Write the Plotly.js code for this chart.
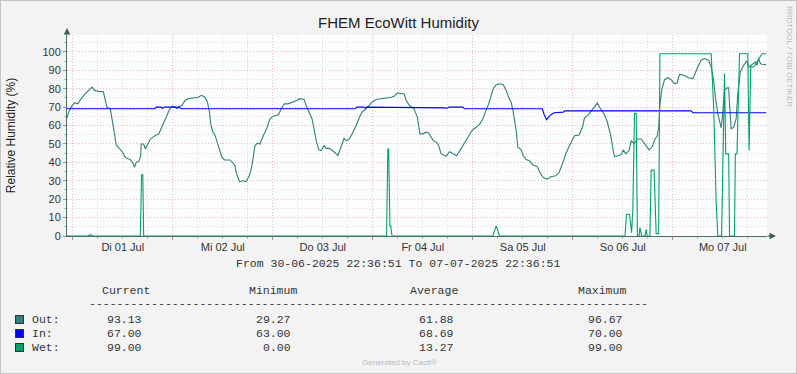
<!DOCTYPE html>
<html><head><meta charset="utf-8">
<script src="https://cdn.plot.ly/plotly-3.0.1.min.js"></script>
<style>
html,body{margin:0;padding:0;background:#F3F3F3;}
#wrap{position:relative;width:797px;height:374px;}
#chart{width:797px;height:374px;}
#frame{position:absolute;left:0;top:0;width:797px;height:374px;box-sizing:border-box;border:1px solid #C4C4C4;pointer-events:none;}
</style></head>
<body><div id="wrap"><div id="chart"></div><div id="frame"></div></div>
<script>
// ---- data (hours since 30-06-2025 22:36:51) ----
const outT = [0,0.4,1.0,1.8,2.6,3.4,4.4,5.2,6.0,6.6,7.6,8.7,9.2,9.6,10.4,11.0,11.4,11.8,12.6,13.4,13.8,14.4,15.2,15.8,16.2,16.6,17.2,17.7,17.8,18.4,18.8,19.4,20.0,20.8,21.4,22.0,22.6,23.2,24.0,24.6,25.2,26.4,27.6,28.3,29.1,29.9,30.7,31.5,32.3,33.1,33.7,34.2,34.5,35.0,35.5,36.1,36.7,37.2,37.8,39.1,39.8,40.3,40.7,41.4,42.2,43.0,43.8,44.3,44.7,45.1,45.7,46.3,47.1,47.9,48.7,49.5,50.7,51.5,52.1,53.1,54.3,55.1,55.9,56.2,56.9,57.4,58.2,58.8,59.3,59.8,60.4,61.0,61.7,62.2,63.0,63.8,64.4,65.0,65.4,66.0,66.5,67.0,67.6,68.2,68.9,69.4,70.2,70.8,71.6,72.4,73.2,74.2,75.4,76.6,77.8,78.6,79.3,80.2,80.9,81.4,82.2,83.3,84.1,84.4,84.7,85.4,86.2,86.8,87.4,87.9,88.7,89.2,89.8,90.6,91.0,91.8,92.6,93.5,94.3,95.0,95.8,96.6,97.2,98.2,99.1,99.8,100.6,101.2,101.8,102.3,103.0,103.9,104.7,105.4,106.0,106.6,107.1,107.8,108.2,109.0,109.5,110.2,111.0,111.8,112.4,112.9,113.5,114.3,115.3,116.1,117.3,118.1,118.9,119.7,120.5,121.3,121.8,122.9,123.7,124.2,125.0,125.8,126.5,127.3,127.9,128.9,129.7,130.5,131.1,131.4,132.2,133.0,133.5,134.1,134.9,135.4,136.1,136.9,137.8,138.9,139.7,140.5,141.1,141.6,142.0,142.3,142.8,143.4,144.2,145.0,145.8,146.4,147.0,148.0,149.2,150.2,150.8,151.4,152.2,153.0,154.0,154.6,155.2,155.6,156.2,156.8,157.0,157.4,157.8,158.4,158.8,159.0,159.4,160.0,160.6,161.0,161.6,162.4,163.2,163.6,164.4,165.2,165.6,166.0,166.4,166.8,167.8];
const outV = [64.0,67.3,70,72.4,71.8,74.6,77.3,79.1,80.9,79.1,78.5,78.5,74.6,70,69.1,61.8,55.5,49.5,47.6,45.4,43.3,42.2,41.5,39.7,37.3,40,40.4,43.6,50,50,47.3,50,52.7,54,54.9,55.3,58.5,61.8,65.8,68.7,70.5,70,70.9,73.6,74.6,74.9,75.4,75.4,76.4,75.4,72.7,67.3,60.9,56.4,54.9,50.9,46.4,42.7,41.3,41.3,39.7,38.2,33.7,29.5,30,29.5,33.1,37.3,42.7,49.1,50.4,50,54.5,58.2,63.7,65.1,65.8,69.1,71.8,71.8,72.7,73.6,74.6,74.6,74.2,70.9,67.3,63.7,58.2,51.8,46.9,46.4,49.1,47.6,47.6,46.4,45.1,43.6,46.4,50,53.1,51.8,52.4,54.5,57.3,60,64.5,67.3,68.7,70.5,72.7,74.2,74.6,74.6,75.4,76,77.8,77.3,77.3,73.6,70.9,69.1,64.5,60,55.5,55.5,56.4,56,53.6,51.8,50.9,49.1,44.6,44,43.3,45.8,44.6,43.6,46.4,49.1,51.8,54.5,57.3,59.1,60.9,63.7,68.2,71.8,76.4,80,82.2,82.7,82.2,79.1,75.4,72.7,67.3,57.3,48.2,46.9,43.6,41.5,40.9,38.6,38.2,37.6,34.5,31.8,30.9,32.2,32.7,34.5,39.1,44.6,48.6,51.8,54.5,54.9,59.1,64.2,65.5,67.8,69.7,72.2,69.7,66.4,61.8,54.5,46.4,43.1,43.6,44.2,46.8,44.6,46.4,51.8,50,52.7,52.7,49.1,46.8,48.6,52.7,54,58.8,71.8,80,84.9,86,84.9,82.8,83.1,87.8,87.3,86,85.5,88.2,91.8,95.5,96.4,95.5,91.8,84.6,75.5,66.4,60.9,58.8,67.3,79.1,80.5,80.5,71.8,58.2,59.1,63.7,77.3,89.1,92.7,95.1,91.8,93.3,94.5,92.7,96.4,93.7,93.3,93.1];

const inT = [0,21.1,21.4,22.6,22.9,23.4,25.9,26.3,26.9,27.4,69.1,69.6,71.2,71.5,71.9,90.2,90.5,91.2,91.7,95.0,95.4,114.1,114.5,115.1,115.7,116.5,116.9,119.1,119.4,149.8,150.2,167.8];
const inV  = [69.1,69.1,70,70,69.3,70,70,69.4,70,69.1,69.1,70,70,69.5,70,70,69.6,69.4,70,70,69.1,69.1,66,63.2,65,66.4,67,67.3,68,68,67,67];

const wetT = [0,5.0,5.6,6.2,17.6,17.9,18.2,18.4,76.7,77.0,77.2,77.5,77.7,78.0,102.2,103.0,103.8,133.9,134.3,135.0,135.5,135.8,136.2,136.6,136.9,137.3,137.5,137.9,138.7,139.0,139.2,139.9,140.2,140.9,141.1,141.4,142.0,142.3,154.6,155.2,155.8,156.2,157.1,157.8,158.1,158.8,159.0,160.2,160.4,160.8,161.4,163.4,163.7,164.1,164.8,165.6,166.1,166.8,167.8];
const wetV = [0,0,0.7,0,0,33.3,33.3,0,0,47.3,47.3,5.5,5.5,0,0,5.5,0,0,11.8,11.8,1.8,14.5,66.7,66.7,0,0,4.5,0,0,3.6,0,0,35.8,35.8,21.8,1.3,1.3,99,99,70,18.2,0,0,88.2,44.6,44.6,0,0,44.6,44.6,99,99,46.4,92,91.8,95,96.4,99,99];

const seriesNames = ['Out:', 'In:', 'Wet:'];
const seriesColors = ['#2F7F7A', '#0000FF', '#00A06B'];
const statHeaders = ['Current', 'Minimum', 'Average', 'Maximum'];
const statCurrent = [93.13, 67.00, 99.00];
const statMin = [29.27, 63.00, 0.00];
const statAvg = [61.88, 68.69, 13.27];
const statMax = [96.67, 70.00, 99.00];

const dayLabels = ['Di 01 Jul', 'Mi 02 Jul', 'Do 03 Jul', 'Fr 04 Jul', 'Sa 05 Jul', 'So 06 Jul', 'Mo 07 Jul'];
const firstMidnight = 1 + 23/60 + 9/3600; // 01-07 00:00 relative to start
const spanHours = 168;
const rangeText = 'From 30-06-2025 22:36:51 To 07-07-2025 22:36:51';

// ---- layout helpers ----
const L = 67, T = 35, W = 700, H = 201;
const px = v => (v - L) / W;
const py = v => (T + H - v) / H;
const sans = 'Liberation Sans, Arial, sans-serif';
const mono = 'Liberation Mono, DejaVu Sans Mono, monospace';

const traces = [
  {x: outT, y: outV, type: 'scatter', mode: 'lines', line: {color: seriesColors[0], width: 1.1}, xaxis: 'x', yaxis: 'y', hoverinfo: 'skip'},
  {x: inT, y: inV, type: 'scatter', mode: 'lines', line: {color: seriesColors[1], width: 1.1}, xaxis: 'x', yaxis: 'y', hoverinfo: 'skip'},
  {x: wetT, y: wetV, type: 'scatter', mode: 'lines', line: {color: seriesColors[2], width: 1.1}, xaxis: 'x2', yaxis: 'y', hoverinfo: 'skip'}
];

const ann = [];
const monoFont = {family: mono, size: 11.5, color: '#333333'};
const headLeft = [100, 247, 408, 576];
const colRight = [143.5, 292.5, 455.5, 625];
statHeaders.forEach((h, i) => ann.push({text: h, xref: 'paper', yref: 'paper', x: px(headLeft[i]), y: py(290.5), xanchor: 'left', yanchor: 'middle', showarrow: false, font: monoFont}));
ann.push({text: '-'.repeat(81), xref: 'paper', yref: 'paper', x: px(87), y: py(303.5), xanchor: 'left', yanchor: 'middle', showarrow: false, font: monoFont});
const rowY = [319, 333, 347];
const cols = [statCurrent, statMin, statAvg, statMax];
seriesNames.forEach((n, r) => {
  ann.push({text: n, xref: 'paper', yref: 'paper', x: px(30), y: py(rowY[r]), xanchor: 'left', yanchor: 'middle', showarrow: false, font: monoFont});
  ann.push({text: '', xref: 'paper', yref: 'paper', x: px(19.5), y: py(rowY[r]), xanchor: 'center', yanchor: 'middle', showarrow: false, width: 7, height: 7, bgcolor: seriesColors[r], bordercolor: '#333333', borderwidth: 1, borderpad: 0});
  cols.forEach((c, i) => ann.push({text: c[r].toFixed(2), xref: 'paper', yref: 'paper', x: px(colRight[i]), y: py(rowY[r]), xanchor: 'right', yanchor: 'middle', showarrow: false, font: monoFont}));
});
ann.push({text: rangeText, xref: 'paper', yref: 'paper', x: px(398), y: py(263), xanchor: 'center', yanchor: 'middle', showarrow: false, font: monoFont});
ann.push({text: 'Generated by Cacti®', xref: 'paper', yref: 'paper', x: px(399), y: py(362.5), xanchor: 'center', yanchor: 'middle', showarrow: false, font: {family: sans, size: 8, color: '#BBBBBB'}});
ann.push({text: 'RRDTOOL / TOBI OETIKER', xref: 'paper', yref: 'paper', x: px(789), y: py(56), xanchor: 'center', yanchor: 'middle', textangle: 90, showarrow: false, font: {family: sans, size: 8, color: '#BBBBBB'}});
// axis arrows
ann.push({text: '', xref: 'paper', yref: 'paper', x: px(67), y: py(28), ax: 0, ay: 8, showarrow: true, arrowhead: 2, arrowsize: 1.3, arrowwidth: 1, arrowcolor: '#3D5F5B'});
ann.push({text: '', xref: 'paper', yref: 'paper', x: px(776), y: py(236), ax: -10, ay: 0, showarrow: true, arrowhead: 2, arrowsize: 1.3, arrowwidth: 1, arrowcolor: '#3D5F5B'});

const noonVals = dayLabels.map((d, i) => firstMidnight + 12 + 24 * i);

const layout = {
  width: 797, height: 374,
  margin: {l: L, r: 797 - L - W, t: T, b: 374 - T - H, pad: 0},
  paper_bgcolor: '#F3F3F3', plot_bgcolor: '#FEFEFE',
  showlegend: false,
  font: {family: sans, size: 11, color: '#333333'},
  title: {text: 'FHEM EcoWitt Humidity', font: {family: sans, size: 15, color: '#222222'}, xref: 'container', yref: 'container', x: 0.5, xanchor: 'center', y: 1 - 22.5 / 374, yanchor: 'middle'},
  xaxis: {
    range: [0, spanHours], tickmode: 'linear', tick0: firstMidnight, dtick: 24,
    showticklabels: false, showgrid: true, gridcolor: '#EDBBBB', griddash: '1px,2px', gridwidth: 1,
    ticks: 'outside', ticklen: 3, tickcolor: '#BB8888',
    showline: true, linecolor: '#4A6B67', linewidth: 1, zeroline: false,
    minor: {tick0: firstMidnight, dtick: 6, showgrid: true, gridcolor: '#DCDCDC', griddash: '1px,2px', gridwidth: 1, ticks: 'outside', ticklen: 2, tickcolor: '#BBBBBB'}
  },
  xaxis2: {
    overlaying: 'x', anchor: 'y', side: 'bottom', range: [0, spanHours],
    tickmode: 'array', tickvals: noonVals, ticktext: dayLabels,
    showgrid: false, ticks: '', showline: false, zeroline: false,
    tickfont: {family: sans, size: 11, color: '#333333'}, ticklabelstandoff: 3
  },
  yaxis: {
    range: [0, 109.2], tickmode: 'linear', tick0: 0, dtick: 10,
    showgrid: true, gridcolor: '#EDBBBB', griddash: '1px,2px', gridwidth: 1,
    ticks: 'outside', ticklen: 3, tickcolor: '#BB8888',
    showline: true, linecolor: '#4A6B67', linewidth: 1, zeroline: false,
    tickfont: {family: sans, size: 11, color: '#333333'},
    minor: {tick0: 0, dtick: 5, showgrid: true, gridcolor: '#DCDCDC', griddash: '1px,2px', gridwidth: 1, ticks: 'outside', ticklen: 2, tickcolor: '#BBBBBB'},
    title: {text: 'Relative Humidity (%)', font: {family: sans, size: 12, color: '#222222'}, standoff: 24}
  },
  annotations: ann
};

Plotly.newPlot('chart', traces, layout, {staticPlot: true, displayModeBar: false});
</script></body></html>
